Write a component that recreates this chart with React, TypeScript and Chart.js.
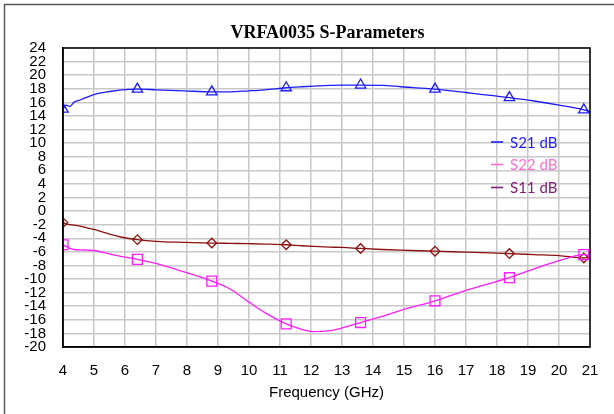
import React, { useEffect, useRef } from "react";
import { Chart, registerables } from "chart.js";
Chart.register(...registerables);

const TITLE = "VRFA0035 S-Parameters";
const X_TITLE = "Frequency (GHz)";
const SERIES_LABELS = ["S21 dB", "S22 dB", "S11 dB"];

const FREQ_GHZ = [4.0, 4.1, 4.22, 4.35, 4.55, 4.8, 5.0, 5.5, 5.9, 6.4, 7.0, 7.9, 8.8, 9.4, 10.0, 10.5, 11.2, 11.7, 12.1, 12.6, 13.0, 13.6, 14.3, 14.9, 16.0, 17.0, 18.4, 19.2, 20.0, 20.8, 21.0];
const S21_DB = [15.0, 15.6, 15.4, 16.0, 16.35, 16.8, 17.15, 17.6, 17.85, 17.95, 17.85, 17.7, 17.55, 17.55, 17.7, 17.85, 18.15, 18.3, 18.4, 18.5, 18.55, 18.55, 18.5, 18.3, 17.95, 17.45, 16.7, 16.2, 15.6, 14.9, 14.6];
const S22_DB = [-4.95, -5.2, -5.5, -5.65, -5.7, -5.75, -5.8, -6.3, -6.7, -7.1, -7.7, -8.95, -10.3, -11.5, -13.4, -14.9, -16.6, -17.4, -17.75, -17.6, -17.2, -16.4, -15.5, -14.6, -13.2, -11.65, -9.8, -8.5, -7.3, -6.4, -6.65];
const S11_DB = [-1.7, -1.9, -2.0, -2.05, -2.2, -2.5, -2.7, -3.4, -3.85, -4.2, -4.45, -4.6, -4.7, -4.75, -4.8, -4.85, -4.95, -5.1, -5.2, -5.3, -5.35, -5.5, -5.65, -5.75, -5.9, -6.05, -6.25, -6.4, -6.55, -6.9, -6.75];
const MARKER_FREQS = [4.0, 6.4, 8.8, 11.2, 13.6, 16.0, 18.4, 20.8];

const X_MIN = 4, X_MAX = 21, X_STEP = 1;
const Y_MIN = -20, Y_MAX = 24, Y_STEP = 2;

const LINE_COLORS = ["#1c1cff", "#ff1cff", "#8b1010"];
const LEGEND_TEXT_COLORS = ["#1c1cff", "#ff6fcf", "#841c78"];
const POINT_STYLES = ["triangle", "rect", "rectRot"];
const POINT_RADII = [6, 7, 4.8];

const TICK_FONT = { family: '"Liberation Sans", Arial, sans-serif', size: 15 };

export default function App() {
  const ref = useRef<HTMLCanvasElement | null>(null);
  useEffect(() => {
    const canvas = ref.current!;
    const seriesValues = [S21_DB, S22_DB, S11_DB];
    const datasets = seriesValues.map((vals, i) => ({
      label: SERIES_LABELS[i],
      data: FREQ_GHZ.map((f, k) => ({ x: f, y: vals[k] })),
      borderColor: LINE_COLORS[i],
      backgroundColor: "transparent",
      borderWidth: 1.3,
      cubicInterpolationMode: "monotone" as const,
      pointStyle: POINT_STYLES[i],
      pointRadius: (ctx: any) => (MARKER_FREQS.includes(ctx.raw?.x) ? POINT_RADII[i] : 0),
      pointBorderColor: LINE_COLORS[i],
      pointBackgroundColor: "rgba(255,255,255,0)",
      pointBorderWidth: 1.3,
    }));

    const decor = {
      id: "decor",
      beforeDraw(chart: any) {
        const c = chart.ctx;
        c.save();
        c.fillStyle = "#ffffff";
        c.fillRect(0, 0, chart.width, chart.height);
        c.strokeStyle = "#5a5a5a";
        c.lineWidth = 1.5;
        c.beginPath();
        c.moveTo(4.5, chart.height);
        c.lineTo(4.5, 4.5);
        c.lineTo(chart.width, 4.5);
        c.stroke();
        c.restore();
      },
      afterDraw(chart: any) {
        const c = chart.ctx;
        const a = chart.chartArea;
        c.save();
        c.strokeStyle = "#000";
        c.lineWidth = 1.5;
        c.strokeRect(a.left, a.top, a.right - a.left, a.bottom - a.top);
        c.fillStyle = "#000";
        c.font = 'bold 18px "Liberation Serif", "Times New Roman", serif';
        c.textAlign = "center";
        c.textBaseline = "middle";
        c.fillText(TITLE, (a.left + a.right) / 2 + 1, 33);
        c.font = '15px "Liberation Sans", Arial, sans-serif';
        c.fillText(X_TITLE, (a.left + a.right) / 2, 393);
        const lx = 491, tx = 510;
        const ly = [142, 164.5, 187.5];
        c.font = '15px Lato, "Open Sans", sans-serif';
        c.textAlign = "left";
        SERIES_LABELS.forEach((lab, i) => {
          c.strokeStyle = LEGEND_TEXT_COLORS[i];
          c.lineWidth = 1.6;
          c.beginPath();
          c.moveTo(lx, ly[i]);
          c.lineTo(lx + 12, ly[i]);
          c.stroke();
          c.fillStyle = LEGEND_TEXT_COLORS[i];
          c.fillText(lab, tx, ly[i] + 1);
        });
        c.restore();
      },
    };

    const chart = new Chart(canvas, {
      type: "line",
      data: { datasets },
      options: {
        responsive: false,
        animation: false,
        devicePixelRatio: 1,
        layout: { padding: { top: 48, right: 24, left: 0, bottom: 0 } },
        plugins: { legend: { display: false }, title: { display: false }, tooltip: { enabled: false } },
        scales: {
          x: {
            type: "linear",
            min: X_MIN,
            max: X_MAX,
            ticks: { stepSize: X_STEP, autoSkip: false, maxRotation: 0, padding: 15, color: "#000", font: TICK_FONT },
            grid: { color: "#c8c8c8", lineWidth: 1.5, drawTicks: false },
            border: { color: "#000", width: 1.5 },
            afterFit: (s: any) => { s.height = 67; },
          },
          y: {
            type: "linear",
            min: Y_MIN,
            max: Y_MAX,
            ticks: { stepSize: Y_STEP, autoSkip: false, padding: 17, color: "#000", font: TICK_FONT },
            grid: { color: "#c8c8c8", lineWidth: 1.5, drawTicks: false },
            border: { color: "#000", width: 1.5 },
            afterFit: (s: any) => { s.width = 63; },
          },
        },
      },
      plugins: [decor],
    } as any);
    return () => chart.destroy();
  }, []);
  return (
    <div style={{ position: "absolute", left: 0, top: 0, width: 614, height: 414 }}>
      <canvas ref={ref} width={614} height={414} style={{ display: "block", width: 614, height: 414 }} />
    </div>
  );
}
